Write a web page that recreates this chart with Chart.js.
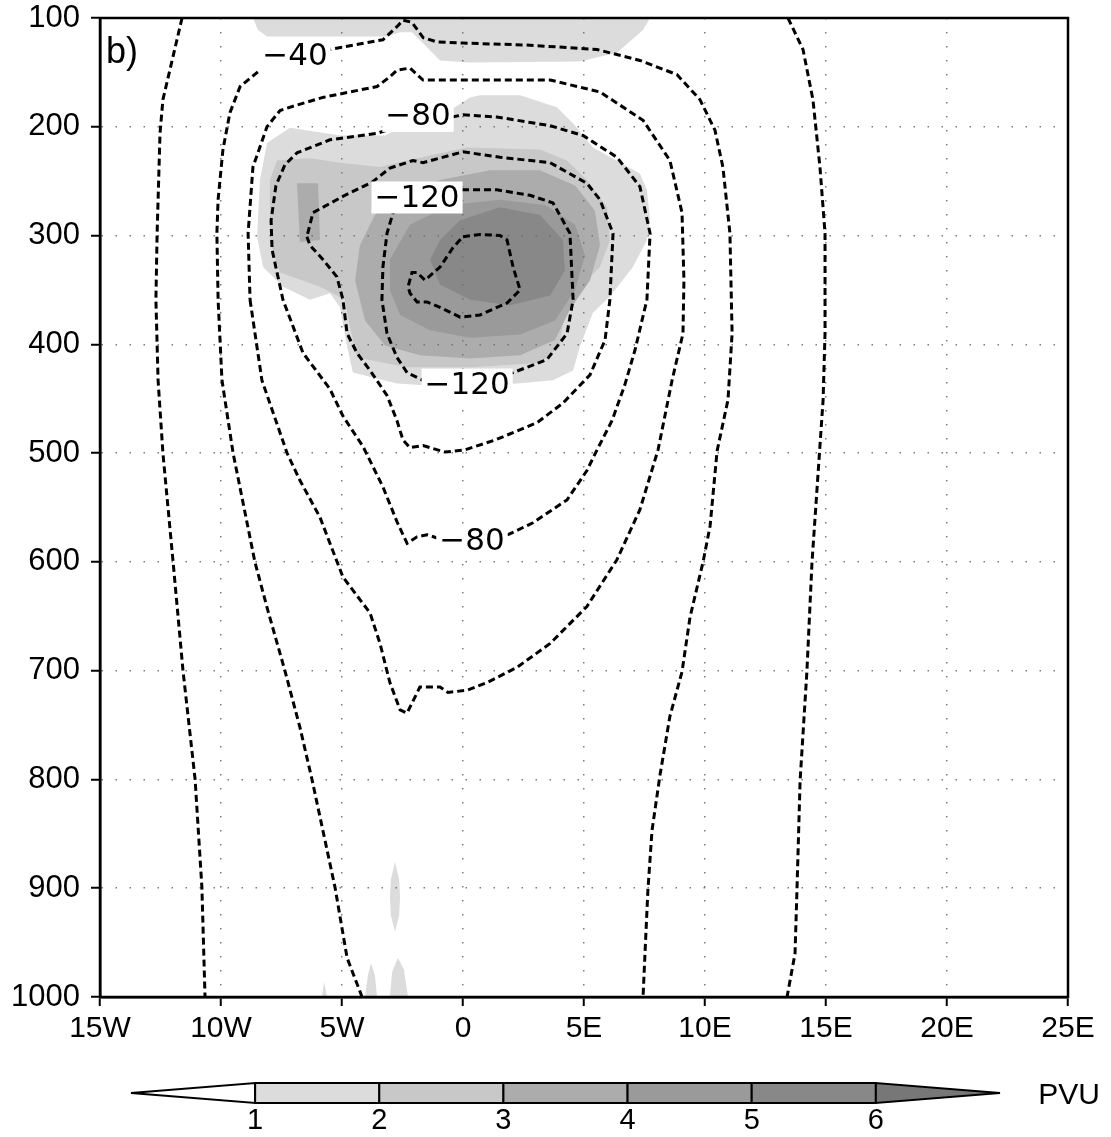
<!DOCTYPE html>
<html>
<head>
<meta charset="utf-8">
<script src="https://cdn.jsdelivr.net/npm/chart.js@4.4.1/dist/chart.umd.min.js"></script>
<style>
  html, body { margin: 0; padding: 0; background: #fff; }
  #wrap { position: relative; width: 1111px; height: 1137px; }
  #main { position: absolute; left: 0; top: 0; }
  #bar { position: absolute; left: 0; top: 1060px; }
</style>
</head>
<body>
<div id="wrap">
  <canvas id="main" width="1111" height="1060"></canvas>
  <canvas id="bar" width="1111" height="77"></canvas>
</div>
<script>
// axes (longitude in degrees, pressure in hPa)
var lon_min = -15, lon_max = 25, lon_step = 5;
var p_min = 100, p_max = 1000, p_step = 100;

// PV shading levels and greys (index 0 = below 1 PVU, 6 = above 6 PVU)
var pv_levels = [1, 2, 3, 4, 5, 6];
var pv_colors = ['#ffffff', '#dcdcdc', '#c8c8c8', '#acacac', '#9a9a9a', '#888888', '#777777'];

// shaded PV areas, [lon, p]
var shade_top = [[-8.68,100],[7.73,100],[7.44,111],[6.36,132],[4.83,140],[0.29,141],[-0.95,139],[-1.57,125],[-2.11,113],[-2.60,113],[-3.14,117],[-8.10,117],[-8.47,111]];
var shade_pv1 = [[-7.15,201],[-5.08,208],[-3.22,208],[-2.60,201],[-0.54,185],[0.29,173],[0.70,171],[2.36,171],[3.88,182],[4.55,197],[5.37,219],[7.31,243],[7.60,258],[7.73,286],[7.60,304],[7.02,329],[6.07,356],[5.37,371],[4.83,402],[4.55,424],[3.72,433],[2.23,436],[-0.66,439],[-2.73,436],[-4.55,426],[-4.79,402],[-5.08,366],[-5.50,353],[-6.32,359],[-7.44,347],[-8.26,329],[-8.51,301],[-8.39,249],[-8.10,215]];
var shade_pv2 = [[-7.69,231],[-6.32,229],[-5.08,233],[-3.43,237],[-2.31,231],[0.17,219],[3.18,221],[4.30,231],[5.12,249],[5.95,274],[6.07,304],[5.66,329],[4.55,353],[4.13,378],[4.01,402],[3.18,417],[0.41,421],[-2.31,421],[-4.38,412],[-4.67,384],[-4.88,359],[-5.91,347],[-7.56,334],[-7.98,304],[-7.98,249]];
var shade_pv3_left = [[-6.86,252],[-5.99,252],[-5.91,304],[-6.74,306]];
var shade_pv3 = [[-4.26,309],[-3.64,281],[-2.60,263],[-0.95,249],[1.12,240],[3.18,240],[4.63,254],[5.45,277],[5.66,309],[5.25,341],[4.42,368],[3.80,396],[2.36,410],[0.29,413],[-1.78,410],[-3.22,401],[-4.05,378],[-4.46,341]];
var shade_pv4 = [[-3.02,322],[-2.19,290],[-0.54,272],[1.53,267],[3.39,272],[4.63,290],[5.04,318],[4.63,350],[3.80,378],[2.36,391],[0.29,394],[-1.36,387],[-2.60,373],[-3.02,350]];
var shade_pv5 = [[-0.95,304],[-0.12,286],[1.53,274],[3.18,281],[4.13,304],[4.21,332],[3.60,355],[1.94,364],[0.29,359],[-0.95,345],[-1.36,322]];
var shade_low_a = [[-2.81,876],[-2.64,892],[-2.60,908],[-2.64,925],[-2.81,940],[-2.98,925],[-3.02,908],[-2.98,892]];
var shade_low_b = [[-4.05,1000],[-3.93,980],[-3.80,969],[-3.64,980],[-3.55,1000]];
var shade_low_c = [[-3.02,1000],[-2.93,977],[-2.69,964],[-2.44,975],[-2.27,1000]];
var shade_low_d = [[-5.83,1000],[-5.74,986],[-5.62,1000]];

// dashed contours, [lon, p]
var cont_m20_left = [[-11.61,100],[-12.02,139],[-12.40,175],[-12.52,206],[-12.64,298],[-12.69,359],[-12.60,433],[-12.40,500],[-11.98,600],[-11.57,700],[-11.07,800],[-10.79,899],[-10.66,1000]];
var cont_m20_right = [[13.43,100],[14.05,129],[14.46,175],[14.75,237],[14.96,298],[14.96,390],[14.88,451],[14.42,601],[14.21,701],[13.93,801],[13.80,902],[13.72,960],[13.39,1000]];
var cont_m40 = [[-4.17,1000],[-4.79,964],[-5.29,899],[-6.24,800],[-6.74,752],[-7.36,700],[-8.06,645],[-8.60,600],[-9.50,500],[-9.96,433],[-10.12,359],[-10.17,298],[-10.12,267],[-9.92,221],[-9.63,187],[-9.21,163],[-8.39,148],[-6.94,137],[-5.50,129],[-3.31,120],[-2.73,108],[-2.48,102],[-2.11,104],[-1.65,118],[-1.07,122],[0,123],[2.77,125],[5.54,129],[7.31,139],[8.84,152],[9.79,175],[10.41,203],[10.74,237],[11.03,298],[11.12,390],[10.95,451],[10.50,498],[10.21,567],[9.92,600],[9.38,651],[9.05,701],[8.55,742],[8.14,796],[7.81,847],[7.64,902],[7.52,960],[7.44,1000]];
var cont_m60 = [[-8.80,359],[-8.31,433],[-7.27,500],[-6.74,525],[-5.91,559],[-4.96,614],[-3.84,647],[-3.43,675],[-3.02,711],[-2.60,736],[-2.31,739],[-1.78,715],[-0.95,715],[-0.62,720],[0.17,718],[0.99,711],[2.23,697],[3.60,675],[5.12,641],[6.36,598],[7.31,552],[8.06,497],[8.64,433],[9.09,390],[9.13,341],[9.05,279],[8.55,231],[7.44,194],[5.66,168],[3.60,157],[0,157],[-1.65,157],[-1.90,152],[-2.19,146],[-2.73,148],[-3.02,154],[-3.55,163],[-5.79,173],[-6.86,180],[-7.56,185],[-8.10,200],[-8.68,237],[-8.88,298]];
var cont_m80 = [[-0.45,191],[0,189],[1.40,191],[2.77,196],[3.60,199],[4.96,208],[6.36,228],[7.31,255],[7.73,298],[7.60,359],[7.11,405],[6.69,437],[6.16,470],[5.54,497],[5.12,516],[4.30,543],[2.89,564],[1.86,575],[0.50,582],[-0.87,580],[-1.07,578],[-1.49,575],[-1.90,577],[-2.31,583],[-2.73,563],[-3.31,531],[-4.13,494],[-4.96,466],[-5.50,441],[-6.61,408],[-7.44,359],[-7.89,313],[-7.93,286],[-7.73,254],[-7.36,235],[-6.86,224],[-5.50,212],[-3.55,206],[-3.14,203],[-1.78,192]];
var cont_m100 = [[-6.45,301],[-6.32,309],[-5.79,322],[-5.21,338],[-4.96,359],[-4.79,390],[-4.38,408],[-3.84,424],[-3.14,447],[-2.73,470],[-2.48,488],[-2.19,495],[-1.65,493],[-1.36,495],[-0.74,499],[0.08,497],[1.32,488],[3.06,472],[4.13,454],[5.25,428],[5.87,396],[6.07,359],[6.20,298],[5.66,267],[5.12,252],[3.60,233],[1.53,228],[0,223],[-1.65,233],[-2.07,231],[-3.02,238],[-3.76,251],[-4.88,263],[-6.20,279]];
var cont_m120 = [[-0.04,258],[1.40,258],[2.77,263],[3.72,270],[4.42,298],[4.55,359],[4.30,390],[3.47,414],[2.07,426],[0.21,437],[-1.65,433],[-2.31,426],[-2.73,412],[-3.14,390],[-3.35,359],[-3.31,329],[-3.14,298],[-2.89,279],[-1.98,265]];
var cont_m140 = [[0,301],[0.70,299],[1.53,300],[1.82,304],[2.07,329],[2.36,350],[1.82,362],[0.70,373],[-0.12,375],[-0.95,366],[-1.49,361],[-1.90,361],[-2.19,353],[-2.27,347],[-2.11,334],[-1.90,334],[-1.57,341],[-0.95,329],[-0.41,311]];

// contour labels
var label_text = ['\u221240', '\u221280', '\u2212120', '\u2212120', '\u221280'];
var label_lon = [-6.94, -1.86, -1.90, 0.17, 0.37];
var label_p = [135, 190, 265, 437, 581];

function to_xy(arr) {
  return arr.map(function(d) { return {x: d[0], y: d[1]}; });
}

function closed(arr) {
  return arr.concat([arr[0]]);
}

function shade_ds(arr, color, edge) {
  return {
    type: 'line',
    data: to_xy(arr),
    showLine: false,
    pointRadius: 0,
    pointHoverRadius: 0,
    shade: color,
    edge: edge || null
  };
}

function contour_ds(arr) {
  return {
    type: 'line',
    data: to_xy(arr),
    showLine: true,
    borderColor: '#000',
    borderWidth: 3,
    borderDash: [7, 4],
    pointRadius: 0,
    fill: false,
    tension: 0
  };
}

// fills the polygon datasets before the grid so the dotted grid shows on top
var shade_fill = {
  id: 'shade_fill',
  beforeDraw: function(chart) {
    var ctx = chart.ctx;
    chart.data.datasets.forEach(function(ds, i) {
      if (!ds.shade) return;
      var pts = chart.getDatasetMeta(i).data;
      ctx.save();
      ctx.beginPath();
      pts.forEach(function(pt, j) {
        if (j == 0) ctx.moveTo(pt.x, pt.y); else ctx.lineTo(pt.x, pt.y);
      });
      ctx.closePath();
      ctx.fillStyle = ds.shade;
      ctx.fill();
      if (ds.edge) {
        ctx.lineWidth = 2;
        ctx.lineJoin = 'miter';
        ctx.strokeStyle = ds.edge;
        ctx.stroke();
      }
      ctx.restore();
    });
  }
};

var contour_labels = {
  id: 'contour_labels',
  afterDatasetsDraw: function(chart) {
    var ctx = chart.ctx;
    var xs = chart.scales.x, ys = chart.scales.y;
    ctx.save();
    ctx.font = '31px "DejaVu Sans"';
    ctx.textAlign = 'center';
    ctx.textBaseline = 'middle';
    for (var i = 0; i < label_text.length; i++) {
      var x = xs.getPixelForValue(label_lon[i]);
      var y = ys.getPixelForValue(label_p[i]);
      var w = ctx.measureText(label_text[i]).width + 6;
      ctx.fillStyle = '#fff';
      ctx.fillRect(x - w / 2, y - 16, w, 32);
      ctx.fillStyle = '#000';
      ctx.fillText(label_text[i], x, y + 1);
    }
    ctx.restore();
  }
};

var frame_box = {
  id: 'frame_box',
  afterDraw: function(chart) {
    var ctx = chart.ctx, a = chart.chartArea;
    ctx.save();
    ctx.lineWidth = 2.5;
    ctx.strokeStyle = '#000';
    ctx.strokeRect(a.left, a.top, a.right - a.left, a.bottom - a.top);
    ctx.fillStyle = '#000';
    ctx.font = '36px "Liberation Sans"';
    ctx.textAlign = 'left';
    ctx.textBaseline = 'alphabetic';
    ctx.fillText('b)', a.left + 6, a.top + 45);
    ctx.restore();
  }
};

function lon_label(v) {
  if (v < 0) return (-v) + 'W';
  if (v > 0) return v + 'E';
  return '0';
}

var main_sets = [
  shade_ds(shade_top, pv_colors[1]),
  shade_ds(shade_pv1, pv_colors[1]),
  shade_ds(shade_low_a, pv_colors[1]),
  shade_ds(shade_low_b, pv_colors[1]),
  shade_ds(shade_low_c, pv_colors[1]),
  shade_ds(shade_low_d, pv_colors[1]),
  shade_ds(shade_pv2, pv_colors[2]),
  shade_ds(shade_pv3_left, pv_colors[3]),
  shade_ds(shade_pv3, pv_colors[3]),
  shade_ds(shade_pv4, pv_colors[4]),
  shade_ds(shade_pv5, pv_colors[5]),
  contour_ds(cont_m20_left),
  contour_ds(cont_m20_right),
  contour_ds(cont_m40),
  contour_ds(closed(cont_m60)),
  contour_ds(closed(cont_m80)),
  contour_ds(closed(cont_m100)),
  contour_ds(closed(cont_m120)),
  contour_ds(closed(cont_m140))
];

new Chart(document.getElementById('main'), {
  type: 'scatter',
  data: { datasets: main_sets },
  plugins: [shade_fill, contour_labels, frame_box],
  options: {
    responsive: false,
    animation: false,
    layout: { padding: { left: 0, top: 18, right: 43, bottom: 0 } },
    plugins: { legend: { display: false }, tooltip: { enabled: false } },
    events: [],
    scales: {
      x: {
        type: 'linear',
        min: lon_min,
        max: lon_max,
        afterFit: function(scale) {
          scale.height = 63;
          scale.paddingLeft = 0;
          scale.paddingRight = 0;
        },
        ticks: {
          stepSize: lon_step,
          color: '#000',
          padding: 5,
          maxRotation: 0,
          font: { family: 'Liberation Sans', size: 30 },
          callback: function(v) { return lon_label(v); }
        },
        grid: { color: 'rgba(110,110,110,0.9)', lineWidth: 1.5, tickLength: 9, tickColor: '#000', tickWidth: 2 },
        border: { display: true, color: '#000', width: 2.5, dash: [1.5, 12.5] }
      },
      y: {
        type: 'linear',
        min: p_min,
        max: p_max,
        reverse: true,
        afterFit: function(scale) {
          scale.width = 100;
          scale.paddingTop = 0;
          scale.paddingBottom = 0;
        },
        ticks: {
          stepSize: p_step,
          color: '#000',
          padding: 11,
          font: { family: 'Liberation Sans', size: 31 },
          callback: function(v) { return String(v); }
        },
        grid: { color: 'rgba(110,110,110,0.9)', lineWidth: 1.5, tickLength: 9, tickColor: '#000', tickWidth: 2 },
        border: { display: true, color: '#000', width: 2.5, dash: [1.5, 12.5] }
      }
    }
  }
});

// colour bar: triangles at both ends, one box per PV interval
var bar_sets = [];
var lv = pv_levels;
bar_sets.push(shade_ds([[lv[0] - 1, 0.5], [lv[0], 1], [lv[0], 0]], pv_colors[0], '#000'));
for (var k = 0; k < lv.length - 1; k++) {
  bar_sets.push(shade_ds([[lv[k], 0], [lv[k], 1], [lv[k + 1], 1], [lv[k + 1], 0]], pv_colors[k + 1], '#000'));
}
bar_sets.push(shade_ds([[lv[lv.length - 1], 0], [lv[lv.length - 1], 1], [lv[lv.length - 1] + 1, 0.5]], pv_colors[lv.length], '#000'));

var unit_label = {
  id: 'unit_label',
  afterDraw: function(chart) {
    var ctx = chart.ctx;
    ctx.save();
    ctx.fillStyle = '#000';
    ctx.font = '30px "Liberation Sans"';
    ctx.textAlign = 'center';
    ctx.textBaseline = 'middle';
    ctx.fillText('PVU', chart.chartArea.right + 69, chart.scales.y.getPixelForValue(0.5) + 3);
    ctx.restore();
  }
};

new Chart(document.getElementById('bar'), {
  type: 'scatter',
  data: { datasets: bar_sets },
  plugins: [shade_fill, unit_label],
  options: {
    responsive: false,
    animation: false,
    layout: { padding: { left: 131, top: 23, right: 111, bottom: 0 } },
    plugins: { legend: { display: false }, tooltip: { enabled: false } },
    events: [],
    scales: {
      x: {
        type: 'linear',
        min: lv[0] - 1,
        max: lv[lv.length - 1] + 1,
        afterFit: function(scale) { scale.height = 34; },
        afterBuildTicks: function(scale) {
          scale.ticks = pv_levels.map(function(v) { return {value: v}; });
        },
        ticks: {
          color: '#000',
          padding: 1,
          maxRotation: 0,
          autoSkip: false,
          font: { family: 'Liberation Sans', size: 29 }
        },
        grid: { display: false, drawTicks: false },
        border: { display: false }
      },
      y: { type: 'linear', min: 0, max: 1, display: false }
    }
  }
});
</script>
</body>
</html>
